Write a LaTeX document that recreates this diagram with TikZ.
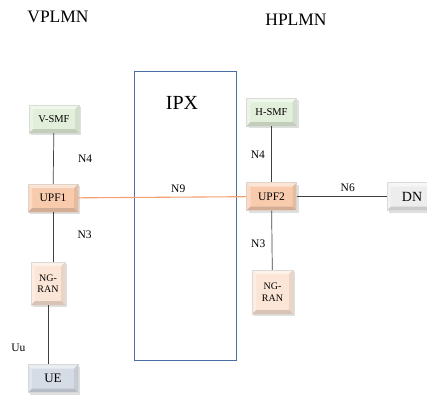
\documentclass[tikz,border=0pt]{standalone}
\usepackage{fontspec}
\setmainfont{Liberation Serif}
\usepackage{tikz}
\usetikzlibrary{positioning, shadows, calc}
\definecolor{smfgreen}{HTML}{E2EFDA}
\definecolor{upforange}{HTML}{F8CBAD}
\definecolor{ranpeach}{HTML}{FBE5D6}
\definecolor{uegray}{HTML}{D6DCE5}
\definecolor{dngray}{HTML}{EDEDED}
\definecolor{ipxblue}{HTML}{4A6FA5}
\definecolor{nnine}{HTML}{F4A070}
\tikzset{
  bevel/.style={
    path picture={
      \coordinate (bnw) at (path picture bounding box.north west);
      \coordinate (bne) at (path picture bounding box.north east);
      \coordinate (bse) at (path picture bounding box.south east);
      \coordinate (bsw) at (path picture bounding box.south west);
      \fill[white, opacity=0.5] (bnw) -- (bne) -- ([shift={(-4pt,-4pt)}]bne) -- ([shift={(4pt,-4pt)}]bnw) -- cycle;
      \fill[white, opacity=0.3] (bnw) -- ([shift={(4pt,-4pt)}]bnw) -- ([shift={(4pt,4pt)}]bsw) -- (bsw) -- cycle;
      \fill[black, opacity=0.07] (bne) -- (bse) -- ([shift={(-4pt,4pt)}]bse) -- ([shift={(-4pt,-4pt)}]bne) -- cycle;
      \fill[black, opacity=0.14] (bsw) -- ([shift={(4pt,4pt)}]bsw) -- ([shift={(-4pt,4pt)}]bse) -- (bse) -- cycle;
    }
  },
  nf/.style={
    rectangle, draw=#1!70!black!40, fill=#1, bevel, drop shadow={opacity=0.25},
    minimum width=50pt, minimum height=28pt,
    align=center, inner sep=1pt
  },
  ran/.style={
    nf=ranpeach, minimum width=34pt, minimum height=43pt,
    font=\fontsize{10}{11.5}\selectfont
  },
  link/.style={draw=black!75, line width=0.7pt},
  lbl/.style={font=\fontsize{11.5}{13}\selectfont},
  plmn/.style={font=\fontsize{17.5}{20}\selectfont}
}

\begin{document}
\begin{tikzpicture}[x=1pt, y=-1pt]
\useasboundingbox (0,0) rectangle (427,394);

\node[plmn] (vplmn) at (58,17) {VPLMN};
\node[plmn] (hplmn) at (296,20) {HPLMN};

% IPX exchange
\node[draw=ipxblue, line width=0.7pt, minimum width=102pt, minimum height=289pt] (ipx) at (185,215.5) {};
\node[font=\fontsize{20}{24}\selectfont] (ipxlbl) at (182,103) {IPX};

% visited side
\node[nf=smfgreen, font=\fontsize{10.5}{12}\selectfont] (vsmf) at (54,119) {V-SMF};
\node[nf=upforange, font=\fontsize{11.5}{13}\selectfont] (upf1) at (53,198) {UPF1};
\node[ran] (vran) at (48,283.5) {NG-\\RAN};
\node[nf=uegray, font=\fontsize{13}{14}\selectfont] (ue) at (53,378.5) {UE};

% home side
\node[nf=smfgreen, font=\fontsize{10.5}{12}\selectfont] (hsmf) at (271.5,112) {H-SMF};
\node[nf=upforange, font=\fontsize{11.5}{13}\selectfont] (upf2) at (271.5,196.5) {UPF2};
\node[ran, minimum width=41pt, minimum height=44pt] (hran) at (272.5,292) {NG-\\RAN};
\node[nf=dngray, minimum width=50pt, font=\fontsize{14}{16}\selectfont] (dn) at (412,196.5) {DN};

\draw[link] (vsmf) -- node[lbl, right=21pt] {N4} (upf1);
\draw[link] (upf1) -- node[lbl, right=21pt, yshift=2pt] {N3} (vran.north -| upf1);
\draw[link] (vran) -- node[lbl, left=19pt, yshift=-13pt] {Uu} (ue.north -| vran);
\draw[draw=nnine, line width=1.1pt] (upf1) -- node[lbl, above=1pt, xshift=16pt] {N9} (upf2);
\draw[link] (hsmf) -- node[lbl, left=3pt] {N4} (upf2);
\draw[link] (upf2) -- node[lbl, left=3pt, yshift=-3pt] {N3} (hran);
\draw[link] (upf2) -- node[lbl, above=1pt, xshift=6pt] {N6} (dn);

\end{tikzpicture}
\end{document}
